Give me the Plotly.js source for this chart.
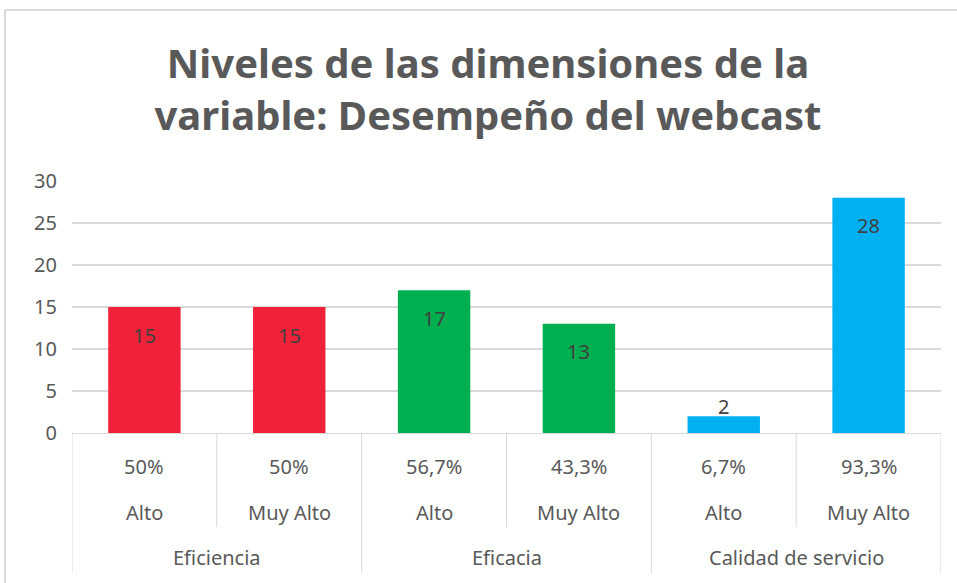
<!DOCTYPE html>
<html><head><meta charset="utf-8">
<script src="https://cdn.plot.ly/plotly-3.0.1.min.js"></script>
<style>html,body{margin:0;padding:0;background:#fff;}#chart{width:957px;height:583px;}</style>
</head><body><div id="chart"></div>
<script>
const groups = ["Eficiencia", "Eficacia", "Calidad de servicio"];
const levels = ["Alto", "Muy Alto", "Alto", "Muy Alto", "Alto", "Muy Alto"];
const percents = ["50%", "50%", "56,7%", "43,3%", "6,7%", "93,3%"];
const counts = [15, 15, 17, 13, 2, 28];
const groupOf = [0, 0, 1, 1, 2, 2];
const groupColors = ["#F0223A", "#00B050", "#00B0F0"];

const W = 957, H = 583;
const mL = 72, mR = 16, mT = 181, mB = 150;
const plotH = H - mT - mB;
const yMax = 30;
const pxPerUnit = plotH / yMax;
const font = "Noto Sans, sans-serif";
const txtCol = "#595959";
const lineCol = "#D9D9D9";

const xs = counts.map((_, i) => i + 0.5);
const traces = [{
  type: "bar", x: xs, y: counts, width: 0.5,
  marker: {color: groupOf.map(g => groupColors[g])},
  hoverinfo: "skip", showlegend: false
}];

const annotations = [];
const shapes = [];
const toPaper = px => -px / plotH;

counts.forEach((v, i) => {
  const inside = v * pxPerUnit > 30;
  annotations.push({x: xs[i], y: v, xref: "x", yref: "y", text: String(v), showarrow: false,
    yanchor: "middle", yshift: inside ? -28 : 10, font: {family: font, size: 20, color: "#404040"}});
  annotations.push({x: xs[i], y: toPaper(33), xref: "x", yref: "paper", text: percents[i], showarrow: false,
    yanchor: "middle", font: {family: font, size: 20, color: txtCol}});
  annotations.push({x: xs[i], y: toPaper(79), xref: "x", yref: "paper", text: levels[i], showarrow: false,
    yanchor: "middle", font: {family: font, size: 20, color: txtCol}});
});
groups.forEach((g, k) => {
  const idx = groupOf.map((gg, i) => gg === k ? i : -1).filter(i => i >= 0);
  const c = (idx[0] + idx[idx.length - 1] + 1) / 2;
  annotations.push({x: c, y: toPaper(124), xref: "x", yref: "paper", text: g, showarrow: false,
    yanchor: "middle", font: {family: font, size: 20, color: txtCol}});
});
for (let b = 0; b <= counts.length; b++) {
  const isGroupEdge = b === 0 || b === counts.length || groupOf[b] !== groupOf[b - 1];
  shapes.push({type: "line", xref: "x", yref: "paper", x0: b, x1: b, y0: 0,
    y1: toPaper(isGroupEdge ? 140 : 94), line: {color: lineCol, width: 1}});
}
// chart frame (top and left edges)
const fx = (5 - mL) / (W - mL - mR);
const fy = (H - mB - 10) / plotH;
shapes.push({type: "line", xref: "paper", yref: "paper", x0: fx, x1: 1.2, y0: fy, y1: fy, line: {color: lineCol, width: 2}});
shapes.push({type: "line", xref: "paper", yref: "paper", x0: fx, x1: fx, y0: fy, y1: -1, line: {color: lineCol, width: 2}});

const layout = {
  width: W, height: H,
  margin: {l: mL, r: mR, t: mT, b: mB},
  paper_bgcolor: "#fff", plot_bgcolor: "#fff",
  title: {text: "Niveles de las dimensiones de la<br>variable: Desempeño del webcast",
    font: {family: font, size: 40, color: txtCol, weight: "bold"},
    x: 488 / W, xref: "container", xanchor: "center", y: 1 - 78 / H, yref: "container", yanchor: "middle"},
  xaxis: {range: [0, counts.length], showgrid: false, zeroline: false, showticklabels: false,
    showline: true, linecolor: lineCol, linewidth: 1, fixedrange: true},
  yaxis: {range: [0, yMax], dtick: 5, tick0: 0, showgrid: true, gridcolor: lineCol, gridwidth: 1.5,
    zeroline: false, showline: false, ticks: "", ticklabelstandoff: 14,
    tickfont: {family: font, size: 20, color: txtCol}, fixedrange: true},
  bargap: 0.5,
  annotations: annotations, shapes: shapes
};
Plotly.newPlot("chart", traces, layout, {displayModeBar: false, staticPlot: true});
</script></body></html>
